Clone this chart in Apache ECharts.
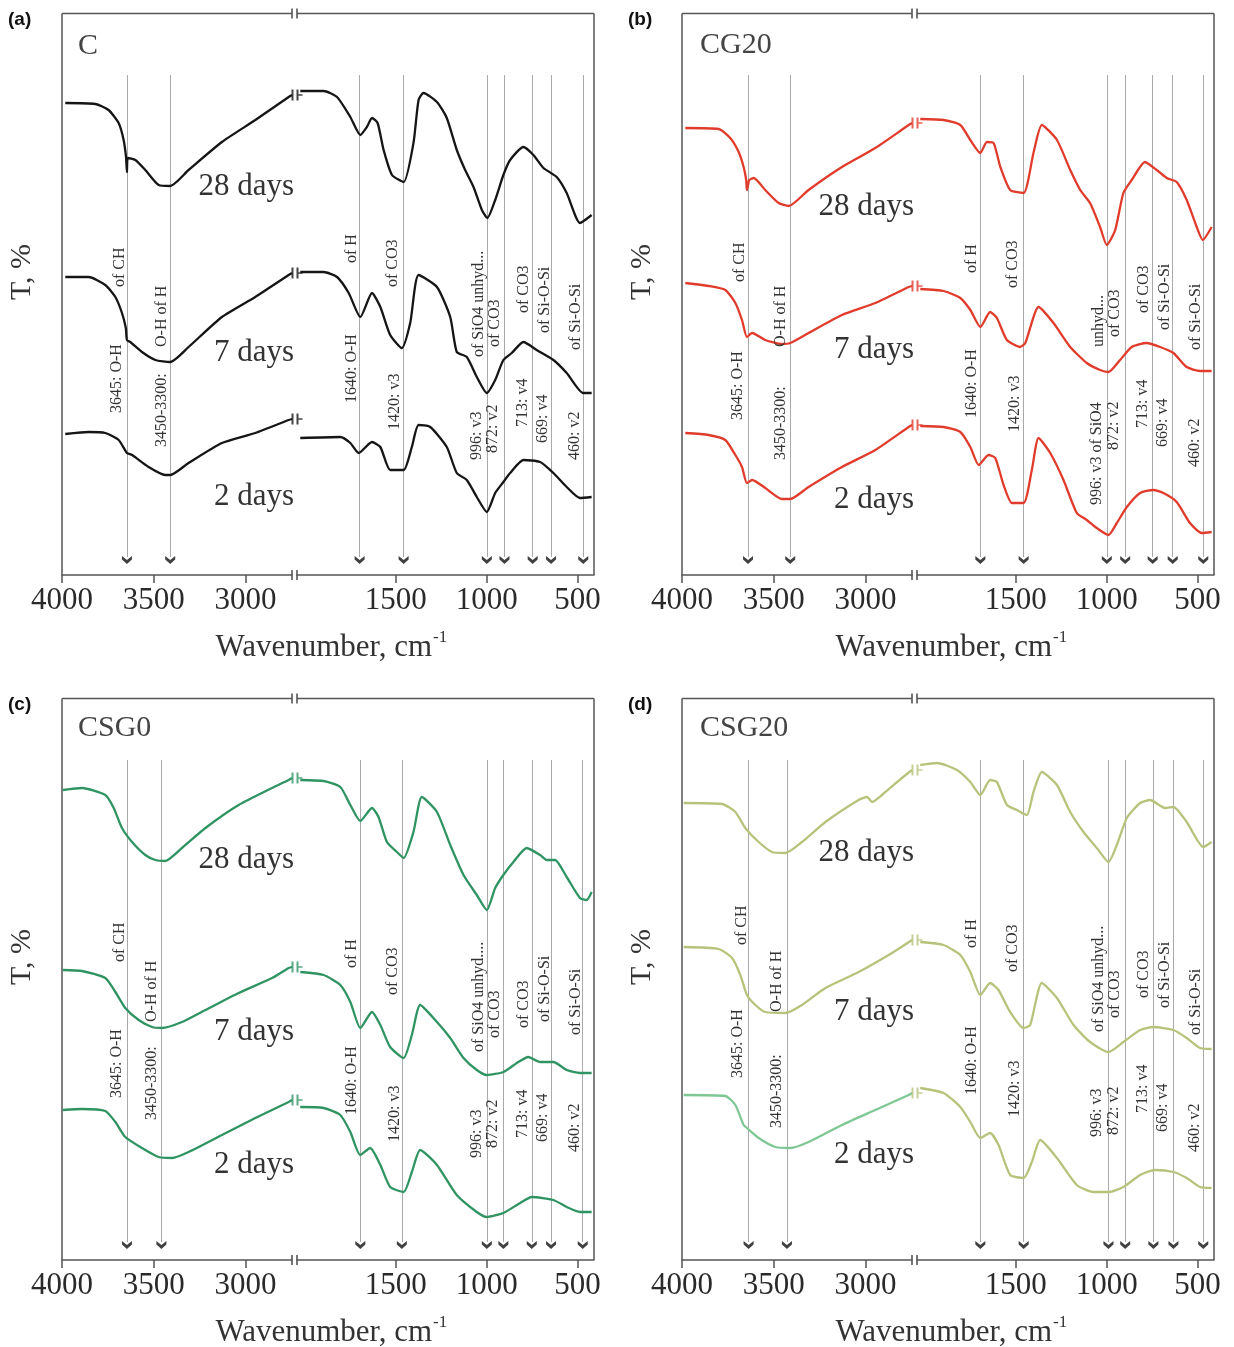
<!DOCTYPE html>
<html>
<head>
<meta charset="utf-8">
<script src="https://cdn.jsdelivr.net/npm/echarts@6/dist/echarts.min.js"></script>
<style>
  html, body { margin: 0; padding: 0; background: #fff; }
  #main { width: 1234px; height: 1347px; }
</style>
</head>
<body>
<div id="main"></div>
<script>
// tick labels of the two axis segments
var wnTicksLeft = [4000, 3500, 3000];
var wnTicksRight = [1500, 1000, 500];

var panelNames = ['C', 'CG20', 'CSG0', 'CSG20'];
var panelTags = ['(a)', '(b)', '(c)', '(d)'];
var ageNames = ['28 days', '7 days', '2 days'];

// spectra: [wavenumber, T (offset, arbitrary units)]
var C_28 = [[3982,472],[3818,471],[3746,465],[3691,452],[3664,435],[3651,418],[3646,403],[3641,417],[3600,415],[3546,405],[3473,390],[3410,389],[3310,405],[3128,433],[2946,455],[2764,478],[2746,480],
  [2024,484],[1896,484],[1822,478],[1749,458],[1694,440],[1658,448],[1630,457],[1599,452],[1566,425],[1520,400],[1456,393],[1402,432],[1374,475],[1347,482],[1273,473],[1219,457],[1164,425],[1118,405],[1072,388],[1026,365],[996,357],[953,375],[908,400],[871,415],[798,428],[743,420],[688,407],[615,398],[560,382],[487,352],[423,360]];
var C_7 = [[3982,298],[3855,298],[3764,290],[3709,278],[3673,262],[3652,247],[3646,235],[3628,233],[3564,223],[3491,215],[3410,213],[3310,228],[3128,258],[2946,278],[2764,300],[2746,302],
  [2024,303],[1896,303],[1822,298],[1758,282],[1694,258],[1630,282],[1584,268],[1530,240],[1466,227],[1420,252],[1374,300],[1273,288],[1200,258],[1164,223],[1109,218],[1054,198],[999,182],[953,195],[908,215],[862,222],[798,233],[725,225],[633,215],[560,202],[469,182],[423,182]];
var C_2 = [[3982,141],[3855,143],[3764,142],[3691,135],[3646,122],[3618,120],[3528,108],[3437,100],[3410,100],[3310,112],[3128,132],[2946,142],[2764,155],[2746,156],
  [2024,137],[1804,138],[1749,132],[1703,122],[1630,133],[1584,128],[1530,105],[1456,105],[1411,128],[1374,150],[1310,148],[1219,128],[1164,102],[1109,95],[1054,78],[999,63],[953,82],[908,93],[871,102],[798,115],[706,113],[633,102],[560,88],[487,77],[423,78]];

var CG20_28 = [[3982,447],[3800,446],[3737,437],[3691,423],[3664,408],[3650,395],[3646,385],[3633,395],[3609,397],[3546,385],[3473,372],[3418,369],[3310,385],[3128,408],[2946,427],[2764,450],[2746,452],
  [2024,456],[1896,455],[1804,450],[1749,435],[1694,422],[1658,433],[1621,432],[1584,408],[1530,385],[1456,382],[1402,422],[1356,450],[1273,435],[1200,405],[1145,385],[1091,372],[1036,348],[999,330],[953,345],[908,382],[862,395],[789,413],[725,405],[670,397],[615,393],[560,375],[505,348],[472,335],[423,348]];
var CG20_7 = [[3982,292],[3855,289],[3764,285],[3709,272],[3673,255],[3646,238],[3618,242],[3546,235],[3455,231],[3410,232],[3310,242],[3128,260],[2946,272],[2764,288],[2746,289],
  [2024,286],[1896,284],[1804,277],[1749,265],[1694,248],[1640,263],[1603,257],[1548,235],[1475,228],[1447,232],[1374,268],[1292,252],[1200,228],[1109,212],[1036,205],[990,203],[926,215],[862,228],[780,232],[706,228],[633,222],[560,208],[487,204],[423,204]];
var CG20_2 = [[3982,142],[3855,140],[3764,135],[3709,120],[3673,108],[3646,92],[3618,95],[3546,87],[3455,76],[3410,76],[3310,88],[3128,108],[2946,125],[2764,148],[2746,150],
  [2024,149],[1896,148],[1804,143],[1749,128],[1703,110],[1649,120],[1612,117],[1566,90],[1520,72],[1456,72],[1411,105],[1374,137],[1310,122],[1237,95],[1164,62],[1109,55],[1054,47],[990,40],[944,52],[889,68],[816,82],[743,85],[688,82],[615,73],[542,52],[478,42],[423,43]];

var CSG0_28 = [[3995,470],[3891,472],[3764,465],[3718,452],[3673,432],[3618,418],[3546,405],[3491,400],[3437,399],[3346,412],[3218,432],[3037,455],[2855,472],[2764,480],[2746,482],
  [2024,480],[1896,479],[1804,473],[1749,455],[1694,439],[1630,452],[1594,443],[1548,418],[1493,408],[1456,402],[1402,428],[1356,463],[1273,448],[1200,415],[1127,385],[1054,365],[999,350],[953,372],[908,385],[853,398],[780,412],[706,405],[670,400],[624,400],[560,383],[487,362],[450,360],[423,368]];
var CSG0_7 = [[3995,290],[3891,289],[3764,282],[3709,268],[3655,252],[3582,240],[3509,233],[3455,232],[3346,238],[3218,250],[3037,267],[2855,282],[2764,292],[2746,293],
  [2024,288],[1896,285],[1804,275],[1749,258],[1694,232],[1630,248],[1584,235],[1530,213],[1456,202],[1411,225],[1365,255],[1273,238],[1200,222],[1127,202],[1054,190],[999,185],[908,188],[834,197],[771,203],[706,198],[633,198],[560,190],[487,187],[423,187]];
var CSG0_2 = [[3995,150],[3891,151],[3764,149],[3709,138],[3655,123],[3564,112],[3473,103],[3400,102],[3310,108],[3128,125],[2946,142],[2764,158],[2746,160],
  [2024,153],[1896,152],[1804,145],[1749,128],[1694,105],[1640,112],[1584,95],[1530,73],[1456,68],[1411,88],[1365,110],[1273,95],[1164,65],[1054,48],[999,43],[908,47],[816,57],[752,63],[633,60],[560,53],[487,48],[423,48]];

var CSG20_28 = [[3991,457],[3782,456],[3709,448],[3655,432],[3582,418],[3509,408],[3437,407],[3346,418],[3218,438],[3037,460],[2991,463],[2964,458],[2910,465],[2801,482],[2746,490],
  [2024,495],[1932,497],[1822,490],[1749,478],[1694,465],[1640,480],[1603,478],[1548,455],[1493,450],[1438,445],[1402,468],[1356,488],[1273,475],[1200,448],[1127,428],[1054,412],[990,398],[944,415],[889,442],[816,457],[761,460],[679,452],[633,453],[560,438],[469,413],[423,418]];
var CSG20_7 = [[3991,313],[3800,311],[3727,302],[3682,285],[3646,265],[3600,255],[3546,248],[3437,247],[3346,255],[3218,272],[3037,288],[2855,307],[2746,320],
  [2024,318],[1896,315],[1804,305],[1749,288],[1694,265],[1640,277],[1594,270],[1530,248],[1456,232],[1420,235],[1356,277],[1273,262],[1182,235],[1091,218],[990,208],[908,218],[816,230],[743,233],[633,230],[560,222],[487,212],[423,211]];
var CSG20_2 = [[3991,165],[3764,164],[3709,155],[3664,135],[3646,132],[3582,122],[3491,113],[3410,112],[3310,118],[3128,135],[2946,150],[2764,165],[2746,167],
  [2024,172],[1896,167],[1804,153],[1749,138],[1694,122],[1640,127],[1594,115],[1530,85],[1456,82],[1411,98],[1365,120],[1273,102],[1164,75],[1072,68],[990,68],[908,73],[816,85],[734,90],[633,88],[560,82],[487,73],[423,72]];

// band positions (vertical guide lines) per panel
var peaksLeft = [[3646, 3410], [3640, 3410], [3646, 3458], [3637, 3428]];
var peaksRight = [
  [1698, 1456, 999, 902, 747, 646, 469],
  [1694, 1456, 999, 898, 747, 637, 469],
  [1694, 1466, 999, 908, 752, 646, 472],
  [1694, 1456, 990, 898, 743, 633, 469]
];

var curves = [[C_28, C_7, C_2], [CG20_28, CG20_7, CG20_2], [CSG0_28, CSG0_7, CSG0_2], [CSG20_28, CSG20_7, CSG20_2]];

// ---- layout / style ----
var origins = [[0, 0], [620, 0], [0, 685], [620, 685]];
var box = {left: 62, brkA: 292, brkB: 297, right: 594, top: 13.5, bottom: 575};
var yMax = box.bottom - box.top;
var segLeft = {min: 2746, max: 4000};
var segRight = {min: 410, max: 2042};
var lineTop = 500, lineBottom = 18, arrowAt = 15;

var colors = ['#151515', '#e13b2b', '#2f9461', '#b7c37b'];
var leftColorFix = {'3-2': '#7fc794'};   // CSG20 2 days: greenish left part

// label layout: [x, y of text start, text] relative to the panel
var bandLabels = [
  [[117,413,'3645: O-H'],[120,287,'of CH'],[162,447,'3450-3300:'],[162,347,'O-H of H'],[352,403,'1640: O-H'],[352,263,'of H'],[395,430,'1420: v3'],[393,287,'of CO3'],[477,460,'996: v3'],[479,357,'of SiO4 unhyd...'],[493,453,'872: v2'],[495,347,'of CO3'],[523,427,'713: v4'],[524,313,'of CO3'],[543,443,'669: v4'],[545,333,'of Si-O-Si'],[575,460,'460: v2'],[576,350,'of Si-O-Si']],
  [[118,420,'3645: O-H'],[120,282,'of CH'],[161,460,'3450-3300:'],[161,347,'O-H of H'],[352,418,'1640: O-H'],[352,273,'of H'],[395,432,'1420: v3'],[393,288,'of CO3'],[477,505,'996: v3 of SiO4'],[479,347,'unhyd...'],[494,450,'872: v2'],[495,337,'of CO3'],[523,428,'713: v4'],[524,313,'of CO3'],[543,447,'669: v4'],[545,330,'of Si-O-Si'],[575,467,'460: v2'],[576,350,'of Si-O-Si']],
  [[117,413,'3645: O-H'],[120,277,'of CH'],[152,435,'3450-3300:'],[152,337,'O-H of H'],[352,430,'1640: O-H'],[352,283,'of H'],[395,457,'1420: v3'],[393,310,'of CO3'],[477,473,'996: v3'],[479,367,'of SiO4 unhyd....'],[493,463,'872: v2'],[495,353,'of CO3'],[523,453,'713: v4'],[524,343,'of CO3'],[543,457,'669: v4'],[545,337,'of Si-O-Si'],[575,467,'460: v2'],[576,350,'of Si-O-Si']],
  [[118,393,'3645: O-H'],[122,260,'of CH'],[157,443,'3450-3300:'],[157,327,'O-H of H'],[352,410,'1640: O-H'],[352,263,'of H'],[395,432,'1420: v3'],[393,287,'of CO3'],[477,452,'996: v3'],[479,347,'of SiO4 unhyd...'],[494,450,'872: v2'],[495,333,'of CO3'],[523,428,'713: v4'],[524,313,'of CO3'],[543,447,'669: v4'],[545,323,'of Si-O-Si'],[575,467,'460: v2'],[576,350,'of Si-O-Si']]
];
var ageY = [[187, 353, 497], [207, 350, 500], [175, 347, 480], [168, 327, 470]];
var titleXY = [[78, 46], [80, 45], [78, 43], [80, 43]];

var SERIF = '"Liberation Serif", "Times New Roman", serif';
var TXT = '#333';
var AXC = '#555';

var breakSym = 'path://M0,0H2V10H0Z M5,0H7V10H5Z M7,4.4H11V5.6H7Z';
var chevron = 'path://M0,0L5,4L10,0L10,3.6L5,8L0,3.6Z';

var chart = echarts.init(document.getElementById('main'));

var grids = [], xAxes = [], yAxes = [], series = [], graphic = [];

function txt(x, y, s, font, opt) {
  opt = opt || {};
  var align = opt.align || 'left';
  var valign = opt.valign || 'middle';
  return {
    type: 'text', x: x, y: y, rotation: opt.rot || 0, silent: true, z: 50,
    style: {
      text: s, font: font, fill: opt.fill || TXT,
      align: align, verticalAlign: valign,
      textAlign: align, textVerticalAlign: valign
    }
  };
}
function seg(x1, y1, x2, y2, w) {
  return {type: 'line', silent: true, z: 40, shape: {x1: x1, y1: y1, x2: x2, y2: y2},
    style: {stroke: AXC, lineWidth: w || 1.5}};
}

for (var p = 0; p < 4; p++) {
  var ox = origins[p][0], oy = origins[p][1];
  var gL = 2 * p, gR = 2 * p + 1;

  grids.push({left: ox + box.left, top: oy + box.top, width: box.brkA - box.left, height: yMax});
  grids.push({left: ox + box.brkB, top: oy + box.top, width: box.right - box.brkB, height: yMax});

  [gL, gR].forEach(function (g, k) {
    var rng = k === 0 ? segLeft : segRight;
    var ticks = k === 0 ? wnTicksLeft : wnTicksRight;
    xAxes.push({
      gridIndex: g, type: 'value', inverse: true, min: rng.min, max: rng.max,
      axisLine: {show: true, onZero: false, lineStyle: {color: AXC, width: 1.5}},
      axisTick: {show: true, customValues: ticks, length: 8, lineStyle: {color: AXC, width: 1.5}},
      axisLabel: {show: true, customValues: ticks, fontFamily: SERIF, fontSize: 31, color: '#2a2a2a', margin: 10,
        formatter: function (v) { return String(v); }},
      splitLine: {show: false}
    });
    yAxes.push({gridIndex: g, type: 'value', min: 0, max: yMax, show: false});
  });

  // curves
  curves[p].forEach(function (d, i) {
    var left = d.filter(function (pt) { return pt[0] > 2400; });
    var right = d.filter(function (pt) { return pt[0] < 2400; });
    var c = colors[p];
    var cl = leftColorFix[p + '-' + i] || c;
    series.push({
      type: 'line', xAxisIndex: gL, yAxisIndex: gL, data: left, symbol: 'none', smooth: 0.2,
      lineStyle: {color: cl, width: 2.3}, z: 5, silent: true
    });
    series.push({
      type: 'line', xAxisIndex: gR, yAxisIndex: gR, data: right, symbol: 'none', smooth: 0.2,
      lineStyle: {color: c, width: 2.3}, z: 5, silent: true
    });
    // break mark at the end of the left segment
    series.push({
      type: 'scatter', xAxisIndex: gL, yAxisIndex: gL, data: [left[left.length - 1]],
      symbol: breakSym, symbolSize: [11, 11], symbolOffset: [5, 0],
      itemStyle: {color: c}, z: 6, silent: true
    });
  });

  // guide lines with arrow heads
  [[gL, peaksLeft[p]], [gR, peaksRight[p]]].forEach(function (pr) {
    series.push({
      type: 'scatter', xAxisIndex: pr[0], yAxisIndex: pr[0],
      data: pr[1].map(function (w) { return [w, arrowAt]; }),
      symbol: chevron, symbolSize: [10, 8], itemStyle: {color: '#111'}, z: 3, silent: true,
      markLine: {
        silent: true, symbol: ['none', 'none'], label: {show: false},
        lineStyle: {color: '#a9a9a9', width: 1, type: 'solid'},
        data: pr[1].map(function (w) { return [{coord: [w, lineTop]}, {coord: [w, lineBottom]}]; })
      }
    });
  });

  // frame (left, right, top) + axis break marks
  var L = ox + box.left, R = ox + box.right, T = oy + box.top, B = oy + box.bottom;
  var A = ox + box.brkA, Bk = ox + box.brkB;
  graphic.push(seg(L, T, L, B));
  graphic.push(seg(R, T, R, B));
  graphic.push(seg(L, T, A, T));
  graphic.push(seg(Bk, T, R, T));
  [T, B].forEach(function (yy) {
    graphic.push(seg(A, yy - 5, A, yy + 5, 1.6));
    graphic.push(seg(Bk, yy - 5, Bk, yy + 5, 1.6));
  });

  // texts
  graphic.push(txt(ox + 8, oy + 20, panelTags[p], 'bold 19px "Liberation Sans", Arial, sans-serif', {fill: '#111'}));
  graphic.push(txt(ox + titleXY[p][0], oy + titleXY[p][1], panelNames[p], '30px ' + SERIF, {fill: '#444'}));
  graphic.push(txt(ox + 22, oy + 272, 'T, %', '30px ' + SERIF, {rot: Math.PI / 2, align: 'center'}));
  graphic.push(txt(ox + 432, oy + 648, 'Wavenumber, cm', '31px ' + SERIF, {align: 'right'}));
  graphic.push(txt(ox + 433, oy + 638, '-1', '17px ' + SERIF));
  ageNames.forEach(function (a, i) {
    graphic.push(txt(ox + 294, oy + ageY[p][i], a, '31px ' + SERIF, {align: 'right'}));
  });
  bandLabels[p].forEach(function (b) {
    graphic.push(txt(ox + b[0], oy + b[1], b[2], '16px ' + SERIF, {rot: Math.PI / 2}));
  });
}

chart.setOption({
  animation: false,
  backgroundColor: '#fff',
  grid: grids,
  xAxis: xAxes,
  yAxis: yAxes,
  series: series,
  graphic: graphic
});
</script>
</body>
</html>
